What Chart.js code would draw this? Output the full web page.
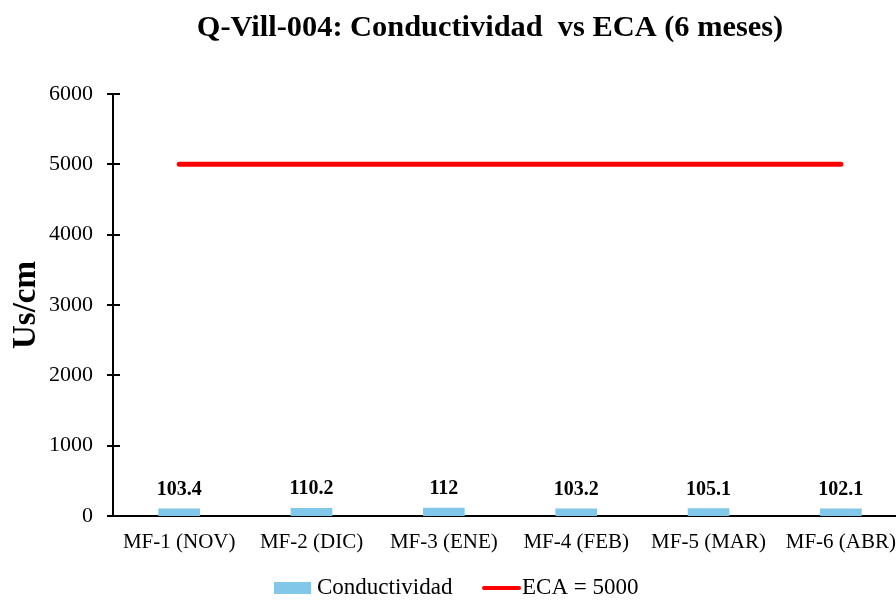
<!DOCTYPE html>
<html>
<head>
<meta charset="utf-8">
<script src="https://cdn.jsdelivr.net/npm/chart.js@4.4.0/dist/chart.umd.min.js"></script>
<style>
  html, body { margin: 0; padding: 0; background: #fff; overflow: hidden; }
  canvas { display: block; }
</style>
</head>
<body>
<canvas id="chart" width="910" height="601"></canvas>
<script>
// data
const categories = ['MF-1 (NOV)', 'MF-2 (DIC)', 'MF-3 (ENE)', 'MF-4 (FEB)', 'MF-5 (MAR)', 'MF-6 (ABR)'];
const conductividad = [103.4, 110.2, 112, 103.2, 105.1, 102.1];
const eca = [5000, 5000, 5000, 5000, 5000, 5000];
const yTicks = [0, 1000, 2000, 3000, 4000, 5000, 6000];

const chartTitle = 'Q-Vill-004: Conductividad  vs ECA (6 meses)';
const serif = "'Liberation Serif', 'Times New Roman', serif";
const barColor = '#80c7e9';
const ecaColor = '#ff0000';

// title, bar value labels, y tick marks and the legend
const extrasPlugin = {
    id: 'extras',
    afterDraw(chart) {
        const ctx = chart.ctx;
        const y = chart.scales.y;
        ctx.save();

        // tick marks across the y axis
        ctx.strokeStyle = '#000';
        ctx.lineWidth = 2;
        yTicks.forEach(v => {
            const py = Math.round(y.getPixelForValue(v));
            ctx.beginPath();
            ctx.moveTo(107, py);
            ctx.lineTo(120, py);
            ctx.stroke();
        });

        // title
        ctx.fillStyle = '#000';
        ctx.font = 'bold 30.4px ' + serif;
        ctx.textAlign = 'center';
        ctx.textBaseline = 'alphabetic';
        ctx.fillText(chartTitle, 490, 36);

        // value labels above the bars
        ctx.font = 'bold 20px ' + serif;
        chart.getDatasetMeta(0).data.forEach((bar, i) => {
            ctx.fillText(String(conductividad[i]), bar.x, Math.round(bar.y) - 14);
        });

        // legend
        const ly = 588;
        ctx.font = '23px ' + serif;
        ctx.textAlign = 'left';
        ctx.textBaseline = 'middle';
        ctx.fillStyle = barColor;
        ctx.fillRect(274, ly - 6, 37, 12);
        ctx.fillStyle = '#000';
        ctx.fillText('Conductividad', 317, ly);
        ctx.strokeStyle = ecaColor;
        ctx.lineWidth = 4;
        ctx.lineCap = 'round';
        ctx.beginPath();
        ctx.moveTo(484, ly);
        ctx.lineTo(519, ly);
        ctx.stroke();
        ctx.fillText('ECA = 5000', 522, ly);

        ctx.restore();
    }
};

new Chart(document.getElementById('chart'), {
    data: {
        labels: categories,
        datasets: [
            {
                type: 'bar',
                label: 'Conductividad',
                data: conductividad,
                backgroundColor: barColor,
                barThickness: 41,
                order: 2
            },
            {
                type: 'line',
                label: 'ECA = 5000',
                data: eca,
                borderColor: ecaColor,
                borderWidth: 5,
                borderCapStyle: 'round',
                pointRadius: 0,
                fill: false,
                order: 1
            }
        ]
    },
    options: {
        responsive: false,
        animation: false,
        layout: { padding: { top: 94, right: 0, left: 0, bottom: 0 } },
        plugins: {
            legend: { display: false },
            tooltip: { enabled: false }
        },
        scales: {
            x: {
                grid: { display: false, drawTicks: false },
                border: { color: '#000', width: 2 },
                ticks: {
                    color: '#000',
                    font: { family: serif, size: 21 },
                    padding: 14,
                    maxRotation: 0,
                    autoSkip: false
                },
                afterFit(scale) { scale.height = 85; }
            },
            y: {
                min: 0,
                max: 6000,
                grid: { display: false, drawTicks: false },
                border: { color: '#000', width: 2 },
                ticks: {
                    stepSize: 1000,
                    color: '#000',
                    font: { family: serif, size: 22 },
                    padding: 20,
                    callback: v => String(v)
                },
                title: {
                    display: true,
                    text: 'Us/cm',
                    color: '#000',
                    font: { family: serif, size: 33, weight: 'bold' },
                    padding: { top: 7, bottom: 0 }
                },
                afterFit(scale) { scale.width = 113; }
            }
        }
    },
    plugins: [extrasPlugin]
});
</script>
</body>
</html>
